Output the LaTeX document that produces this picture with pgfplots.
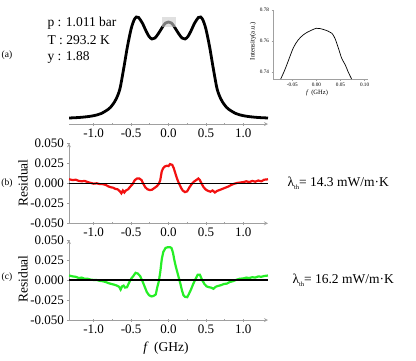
\documentclass[border=0pt]{standalone}
\usepackage{fontspec}
\setmainfont{Liberation Serif}
\usepackage{pgfplots}
\pgfplotsset{compat=1.18}

\definecolor{axgray}{HTML}{A0A0A0}
\definecolor{resred}{HTML}{F21010}
\definecolor{resgreen}{HTML}{26EE26}

\pgfplotsset{
  panel/.style={
    scale only axis, width=199pt, xmin=-1.33, xmax=1.33,
    axis line style={axgray, line width=0.8pt, -},
    every tick/.style={axgray, line width=0.6pt},
    tick align=outside, major tick length=3pt, minor tick length=2pt,
    xtick={-1,-0.5,0,0.5,1}, xticklabels={-1.0,-0.5,0.0,0.5,1.0},
    minor x tick num=1, scaled ticks=false,
    tick label style={font=\fontsize{13}{15}\selectfont, text=black},
  },
  resid/.style={
    panel, height=80pt, ymin=-0.05, ymax=0.05,
    axis x line=bottom, axis y line=left,
    ytick={-0.05,-0.025,0,0.025,0.05},
    yticklabels={-0.050,-0.025,0.000,0.025,0.050},
  },
}

\begin{document}
\begin{tikzpicture}[x=1pt, y=1pt]
\useasboundingbox (0,0) rectangle (416,360);

% (a) spectrum
\begin{axis}[panel, at={(69pt,236pt)}, anchor=south west,
    height=114pt, ymin=0, ymax=114,
    axis x line=bottom, axis y line=none, ytick=\empty]
  \addplot[black, line width=2.8pt, smooth] coordinates {
    (-1.33,6) (-1.2,6.5) (-1.1,7.2) (-1.0,8.3) (-0.9,10.5) (-0.8,15)
    (-0.75,19) (-0.7,25) (-0.65,35) (-0.6,55) (-0.55,77) (-0.5,95)
    (-0.46,104) (-0.43,107) (-0.40,106.5) (-0.35,101) (-0.3,93)
    (-0.26,87.5) (-0.22,85) (-0.18,86) (-0.13,91) (-0.08,97) (-0.04,101)
    (0,102)
    (0.04,101) (0.08,97) (0.13,91) (0.18,86) (0.22,85) (0.26,87.5)
    (0.3,93) (0.35,101) (0.40,106.5) (0.43,107) (0.46,104) (0.5,95)
    (0.55,77) (0.6,55) (0.65,35) (0.7,25) (0.75,19) (0.8,15) (0.9,10.5)
    (1.0,8.3) (1.1,7.2) (1.2,6.5) (1.33,6)};
  \fill[black!20, fill opacity=0.6] (axis cs:-0.09,97.3) rectangle (axis cs:0.1,107.3);
\end{axis}

% inset
\begin{axis}[scale only axis, at={(273pt,281pt)}, anchor=south west,
    width=95pt, height=69pt,
    xmin=-0.09, xmax=0.107, ymin=0.7355, ymax=0.78,
    axis x line=bottom, axis y line=left, scaled ticks=false,
    axis line style={axgray, line width=0.6pt, -},
    every tick/.style={axgray, line width=0.4pt},
    tick align=outside, major tick length=1.5pt,
    xtick={-0.05,0,0.05,0.1}, xticklabels={-0.05,0.00,0.05,0.10},
    ytick={0.74,0.76,0.78}, yticklabels={0.74,0.76,0.78},
    tick label style={font=\fontsize{5.2}{6}\selectfont, text=black},
    xticklabel style={yshift=1pt}, yticklabel style={xshift=1pt}]
  \addplot[black, line width=0.7pt, smooth] coordinates {
    (-0.074,0.7355) (-0.066,0.741) (-0.059,0.7466) (-0.048,0.7555)
    (-0.038,0.7606) (-0.0275,0.7639) (-0.018,0.7658) (-0.010,0.767)
    (0.0,0.7682) (0.008,0.768) (0.014,0.7675) (0.024,0.7664)
    (0.032,0.765) (0.0385,0.7617) (0.046,0.755) (0.0525,0.7488)
    (0.060,0.7445) (0.066,0.740) (0.073,0.7355)};
\end{axis}
\node[rotate=90, font=\fontsize{6.8}{8}\selectfont] at (253,319) {Intensity(a.u.)};
\node[font=\fontsize{6.5}{8}\selectfont] at (317,267) {\textit{f}\, (GHz)};

% (b) residual
\begin{axis}[resid, at={(69pt,136.7pt)}, anchor=south west]
  \addplot[resred, line width=2.2pt] coordinates {
    (-1.33,0.005) (-1.28,0.004) (-1.24,0.0045) (-1.2,0.003) (-1.16,0.0025)
    (-1.12,0.003) (-1.08,0.0015) (-1.04,0.0005) (-1.0,-0.0005) (-0.96,0.0)
    (-0.92,-0.001) (-0.88,-0.001) (-0.84,-0.002) (-0.80,-0.004) (-0.77,-0.005)
    (-0.74,-0.0055) (-0.71,-0.007) (-0.68,-0.0075) (-0.65,-0.010) (-0.63,-0.0125)
    (-0.61,-0.009) (-0.59,-0.0115) (-0.57,-0.009) (-0.54,-0.0075) (-0.51,-0.004)
    (-0.48,-0.001) (-0.45,0.004) (-0.42,0.006) (-0.39,0.006) (-0.36,0.004)
    (-0.34,0.0) (-0.31,-0.005) (-0.28,-0.0075) (-0.25,-0.0085) (-0.22,-0.008)
    (-0.19,-0.006) (-0.16,-0.004) (-0.13,-0.001) (-0.11,0.004) (-0.09,0.015)
    (-0.07,0.019) (-0.05,0.021) (-0.02,0.022) (0.0,0.0215) (0.02,0.024)
    (0.05,0.023) (0.07,0.019) (0.09,0.013) (0.11,0.007) (0.13,0.002)
    (0.15,-0.002) (0.17,-0.006) (0.19,-0.009) (0.22,-0.011) (0.25,-0.010)
    (0.28,-0.005) (0.31,-0.001) (0.34,0.002) (0.37,0.004) (0.40,0.006)
    (0.42,0.004) (0.44,0.0) (0.47,-0.005) (0.50,-0.008) (0.53,-0.0095)
    (0.56,-0.0105) (0.59,-0.009) (0.62,-0.0115) (0.65,-0.0095) (0.68,-0.0085)
    (0.72,-0.007) (0.76,-0.0055) (0.80,-0.004) (0.84,-0.002) (0.88,-0.0005)
    (0.92,0.0005) (0.96,0.001) (1.0,0.0015) (1.04,0.0025) (1.08,0.0015)
    (1.12,0.003) (1.16,0.002) (1.2,0.0035) (1.24,0.0025) (1.28,0.0045) (1.33,0.005)};
  \addplot[black, line width=1.3pt] coordinates {(-1.33,0) (1.33,0)};
\end{axis}

% (c) residual
\begin{axis}[resid, at={(69pt,40pt)}, anchor=south west]
  \addplot[resgreen, line width=2.2pt] coordinates {
    (-1.33,0.0056) (-1.28,0.0045) (-1.24,0.004) (-1.2,0.0025) (-1.16,0.003)
    (-1.12,0.0015) (-1.08,0.0015) (-1.04,0.0005) (-1.0,0.0) (-0.96,0.0)
    (-0.92,-0.001) (-0.88,-0.0015) (-0.84,-0.0025) (-0.80,-0.004) (-0.76,-0.005)
    (-0.72,-0.006) (-0.69,-0.007) (-0.66,-0.0085) (-0.64,-0.012) (-0.62,-0.008)
    (-0.60,-0.007) (-0.58,-0.0095) (-0.555,-0.009) (-0.53,-0.004) (-0.50,0.0015)
    (-0.47,0.005) (-0.44,0.009) (-0.41,0.008) (-0.38,0.005) (-0.35,-0.001)
    (-0.32,-0.008) (-0.29,-0.015) (-0.26,-0.019) (-0.23,-0.0205) (-0.20,-0.020)
    (-0.17,-0.018) (-0.15,-0.009) (-0.13,-0.002) (-0.11,0.01) (-0.09,0.026)
    (-0.07,0.035) (-0.04,0.040) (-0.01,0.041) (0.02,0.041) (0.04,0.040)
    (0.06,0.034) (0.08,0.024) (0.10,0.016) (0.12,0.009) (0.14,0.002)
    (0.16,-0.005) (0.18,-0.013) (0.20,-0.019) (0.22,-0.021) (0.25,-0.0215)
    (0.27,-0.018) (0.30,-0.012) (0.33,-0.005) (0.36,0.001) (0.39,0.0065)
    (0.42,0.0065) (0.45,0.0) (0.48,-0.005) (0.51,-0.008) (0.54,-0.009)
    (0.57,-0.0095) (0.60,-0.011) (0.63,-0.0085) (0.66,-0.0075) (0.70,-0.0065)
    (0.74,-0.005) (0.78,-0.0045) (0.82,-0.0025) (0.86,-0.0015) (0.90,0.0)
    (0.95,0.0015) (1.0,0.002) (1.04,0.003) (1.08,0.0025) (1.12,0.0035)
    (1.16,0.003) (1.2,0.0045) (1.24,0.004) (1.28,0.005) (1.33,0.0056)};
  \addplot[black, line width=1.3pt] coordinates {(-1.33,0) (1.33,0)};
\end{axis}

% texts
\begin{scope}[font=\fontsize{13.5}{16}\selectfont]
  \node[anchor=west] at (44,337) {p : 1.011 bar};
  \node[anchor=west] at (44,320) {T : 293.2 K};
  \node[anchor=west] at (44,303) {y : 1.88};
  \node[anchor=west] at (284,177) {λ\raisebox{-3pt}{\fontsize{6.5}{7}\selectfont th}= 14.3 mW/m·K};
  \node[anchor=west] at (289,80) {λ\raisebox{-3pt}{\fontsize{6.5}{7}\selectfont th}= 16.2 mW/m·K};
  \node[rotate=90] at (23,177) {Residual};
  \node[rotate=90] at (23,81) {Residual};
  \node at (166,12) {\textit{f}\, (GHz)};
\end{scope}
\begin{scope}[font=\fontsize{9.5}{11}\selectfont]
  \node at (7,305) {(a)};
  \node at (7,177) {(b)};
  \node at (7,83) {(c)};
\end{scope}
\end{tikzpicture}
\end{document}
